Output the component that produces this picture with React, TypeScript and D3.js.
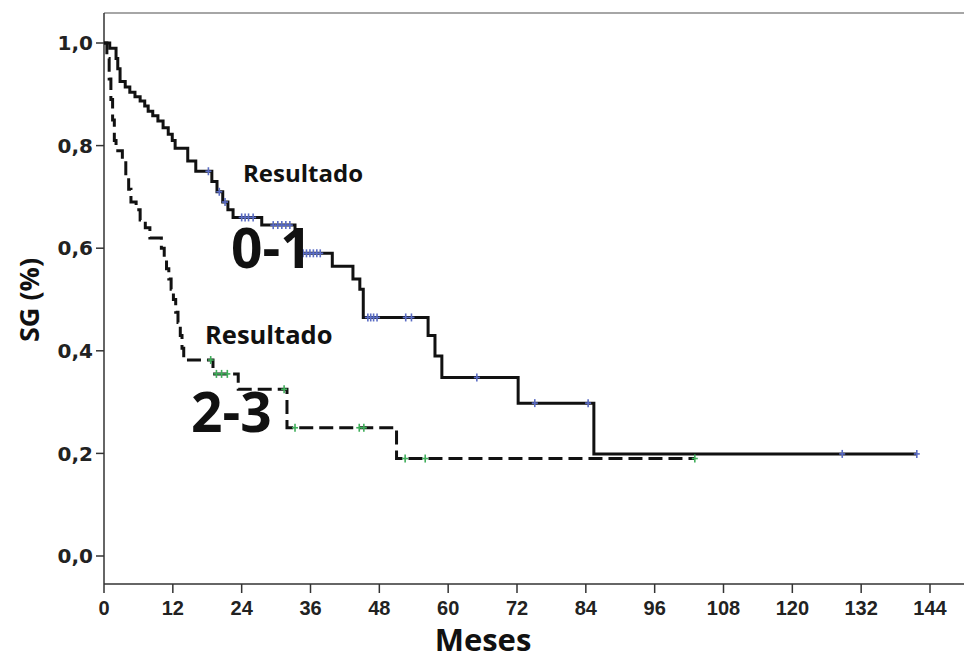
import { useEffect, useRef } from 'react';
import * as d3 from 'd3';

// Kaplan-Meier, grupo "Resultado 0-1" (linea continua)
const g01Times = [1.0, 2.1, 2.4, 2.8, 3.7, 4.5, 5.4, 6.3, 7.1, 7.7, 8.5, 9.4, 10.3, 11.2, 11.9, 12.4, 14.6, 16.0, 18.8, 19.7, 20.7, 21.6, 22.5, 27.5, 33.3, 34.2, 39.8, 43.4, 44.6, 45.2, 56.5, 57.7, 58.9, 72.2, 85.4];
const g01Surv = [0.99, 0.97, 0.95, 0.925, 0.914, 0.904, 0.895, 0.887, 0.877, 0.867, 0.858, 0.848, 0.835, 0.822, 0.81, 0.795, 0.77, 0.75, 0.73, 0.71, 0.69, 0.675, 0.66, 0.645, 0.625, 0.59, 0.565, 0.54, 0.52, 0.465, 0.43, 0.39, 0.348, 0.298, 0.199];
const g01Censored = [18.2, 20.1, 21.1, 24.0, 24.6, 25.2, 26.0, 29.5, 30.3, 31.0, 31.7, 32.4, 34.7, 35.3, 35.9, 36.5, 37.1, 37.7, 46.0, 46.5, 47.0, 47.6, 52.6, 53.6, 65.0, 75.1, 84.4, 128.7, 141.7];
const g01End = 141.7;

// grupo "Resultado 2-3" (linea discontinua)
const g23Times = [0.5, 0.9, 1.2, 1.5, 1.8, 2.1, 3.2, 3.8, 4.3, 4.7, 5.6, 6.3, 7.2, 8.0, 10.0, 10.5, 10.9, 11.3, 11.7, 12.1, 12.5, 12.9, 13.3, 13.6, 13.9, 19.0, 23.4, 31.9, 51.0];
const g23Surv = [0.97, 0.93, 0.89, 0.85, 0.81, 0.79, 0.77, 0.74, 0.715, 0.69, 0.675, 0.655, 0.64, 0.62, 0.6, 0.58, 0.56, 0.54, 0.52, 0.5, 0.475, 0.455, 0.43, 0.405, 0.382, 0.355, 0.325, 0.25, 0.19];
const g23Censored = [18.6, 19.6, 20.5, 21.5, 31.4, 33.3, 44.5, 45.3, 52.5, 56.0, 103.0];
const g23End = 103.0;

const xTicks = [0, 12, 24, 36, 48, 60, 72, 84, 96, 108, 120, 132, 144];
const yTicks = [0, 0.2, 0.4, 0.6, 0.8, 1.0];

const W = 964;
const H = 662;

function survAt(times: number[], surv: number[], t: number) {
    let v = 1;
    times.forEach((tt, i) => { if (tt <= t) v = surv[i]; });
    return v;
}

function stepPoints(times: number[], surv: number[], end: number): [number, number][] {
    const pts: [number, number][] = [[0, 1]];
    times.forEach((t, i) => pts.push([t, surv[i]]));
    pts.push([end, surv[surv.length - 1]]);
    return pts;
}

export default function App() {
    const ref = useRef<SVGSVGElement>(null);

    useEffect(() => {
        if (!ref.current) return;
        const svg = d3.select(ref.current);
        svg.selectAll('*').remove();

        const x = d3.scaleLinear().domain([0, 144]).range([104, 930]);
        const y = d3.scaleLinear().domain([0, 1]).range([556, 43]);
        const left = 104, top = 13, bottom = 584;

        // marco
        svg.append('line').attr('x1', left).attr('x2', W).attr('y1', top).attr('y2', top)
            .attr('stroke', '#888').attr('stroke-width', 1.5);
        svg.append('line').attr('x1', left).attr('x2', W).attr('y1', bottom).attr('y2', bottom)
            .attr('stroke', '#333').attr('stroke-width', 1.5);
        svg.append('line').attr('x1', left).attr('x2', left).attr('y1', top).attr('y2', bottom)
            .attr('stroke', '#333').attr('stroke-width', 1.5);

        // eje Y
        const yg = svg.append('g');
        yTicks.forEach((v) => {
            yg.append('line').attr('x1', left - 8).attr('x2', left).attr('y1', y(v)).attr('y2', y(v))
                .attr('stroke', '#333').attr('stroke-width', 1.5);
            yg.append('text').attr('x', left - 11).attr('y', y(v)).attr('dy', '0.36em')
                .attr('text-anchor', 'end')
                .attr('font-family', 'DejaVu Sans, sans-serif').attr('font-weight', 'bold')
                .attr('font-size', 20).attr('fill', '#222')
                .text(d3.format('.1f')(v).replace('.', ','));
        });

        // eje X
        const xg = svg.append('g');
        xTicks.forEach((t) => {
            xg.append('line').attr('x1', x(t)).attr('x2', x(t)).attr('y1', bottom).attr('y2', bottom + 9)
                .attr('stroke', '#333').attr('stroke-width', 1.5);
            xg.append('text').attr('x', x(t)).attr('y', bottom + 31)
                .attr('text-anchor', 'middle')
                .attr('font-family', 'Liberation Sans Narrow, Liberation Sans, sans-serif').attr('font-weight', 'bold')
                .attr('font-size', 20).attr('fill', '#222')
                .text(t);
        });

        svg.append('text').attr('x', 483).attr('y', 651).attr('text-anchor', 'middle')
            .attr('font-family', 'Open Sans, sans-serif').attr('font-weight', 'bold')
            .attr('font-size', 31).attr('fill', '#111').text('Meses');
        svg.append('text').attr('transform', 'translate(39,300) rotate(-90)').attr('text-anchor', 'middle')
            .attr('font-family', 'Open Sans, sans-serif').attr('font-weight', 'bold')
            .attr('font-size', 27).attr('fill', '#111').text('SG (%)');

        const line = d3.line<[number, number]>()
            .x((d) => x(d[0]))
            .y((d) => y(d[1]))
            .curve(d3.curveStepAfter);

        svg.append('path').datum(stepPoints(g23Times, g23Surv, g23End))
            .attr('fill', 'none').attr('stroke', '#111').attr('stroke-width', 3)
            .attr('stroke-dasharray', '14,6').attr('d', line);

        svg.append('path').datum(stepPoints(g01Times, g01Surv, g01End))
            .attr('fill', 'none').attr('stroke', '#111').attr('stroke-width', 3)
            .attr('stroke-linejoin', 'miter').attr('d', line);

        const drawCensors = (times: number[], tt: number[], ss: number[], color: string) => {
            times.forEach((t) => {
                const cx = x(t), cy = y(survAt(tt, ss, t));
                svg.append('line').attr('x1', cx).attr('x2', cx).attr('y1', cy - 4).attr('y2', cy + 4)
                    .attr('stroke', color).attr('stroke-width', 1.6);
                svg.append('line').attr('x1', cx - 3).attr('x2', cx + 3).attr('y1', cy).attr('y2', cy)
                    .attr('stroke', color).attr('stroke-width', 1.6);
            });
        };
        drawCensors(g01Censored, g01Times, g01Surv, '#5a6cc4');
        drawCensors(g23Censored, g23Times, g23Surv, '#3fae5a');

        // etiquetas
        const label = (tx: number, ty: number, size: number, s: string) =>
            svg.append('text').attr('x', tx).attr('y', ty)
                .attr('font-family', 'Open Sans, sans-serif').attr('font-weight', 'bold')
                .attr('font-size', size).attr('fill', '#111').text(s);
        label(243, 182, 24, 'Resultado');
        label(231, 268, 55, '0-1');
        label(205, 344, 25.5, 'Resultado');
        label(191, 432, 55, '2-3');
    }, []);

    return (
        <svg ref={ref} width={W} height={H}
            style={{ position: 'absolute', left: 0, top: 0, background: '#fff' }} />
    );
}
